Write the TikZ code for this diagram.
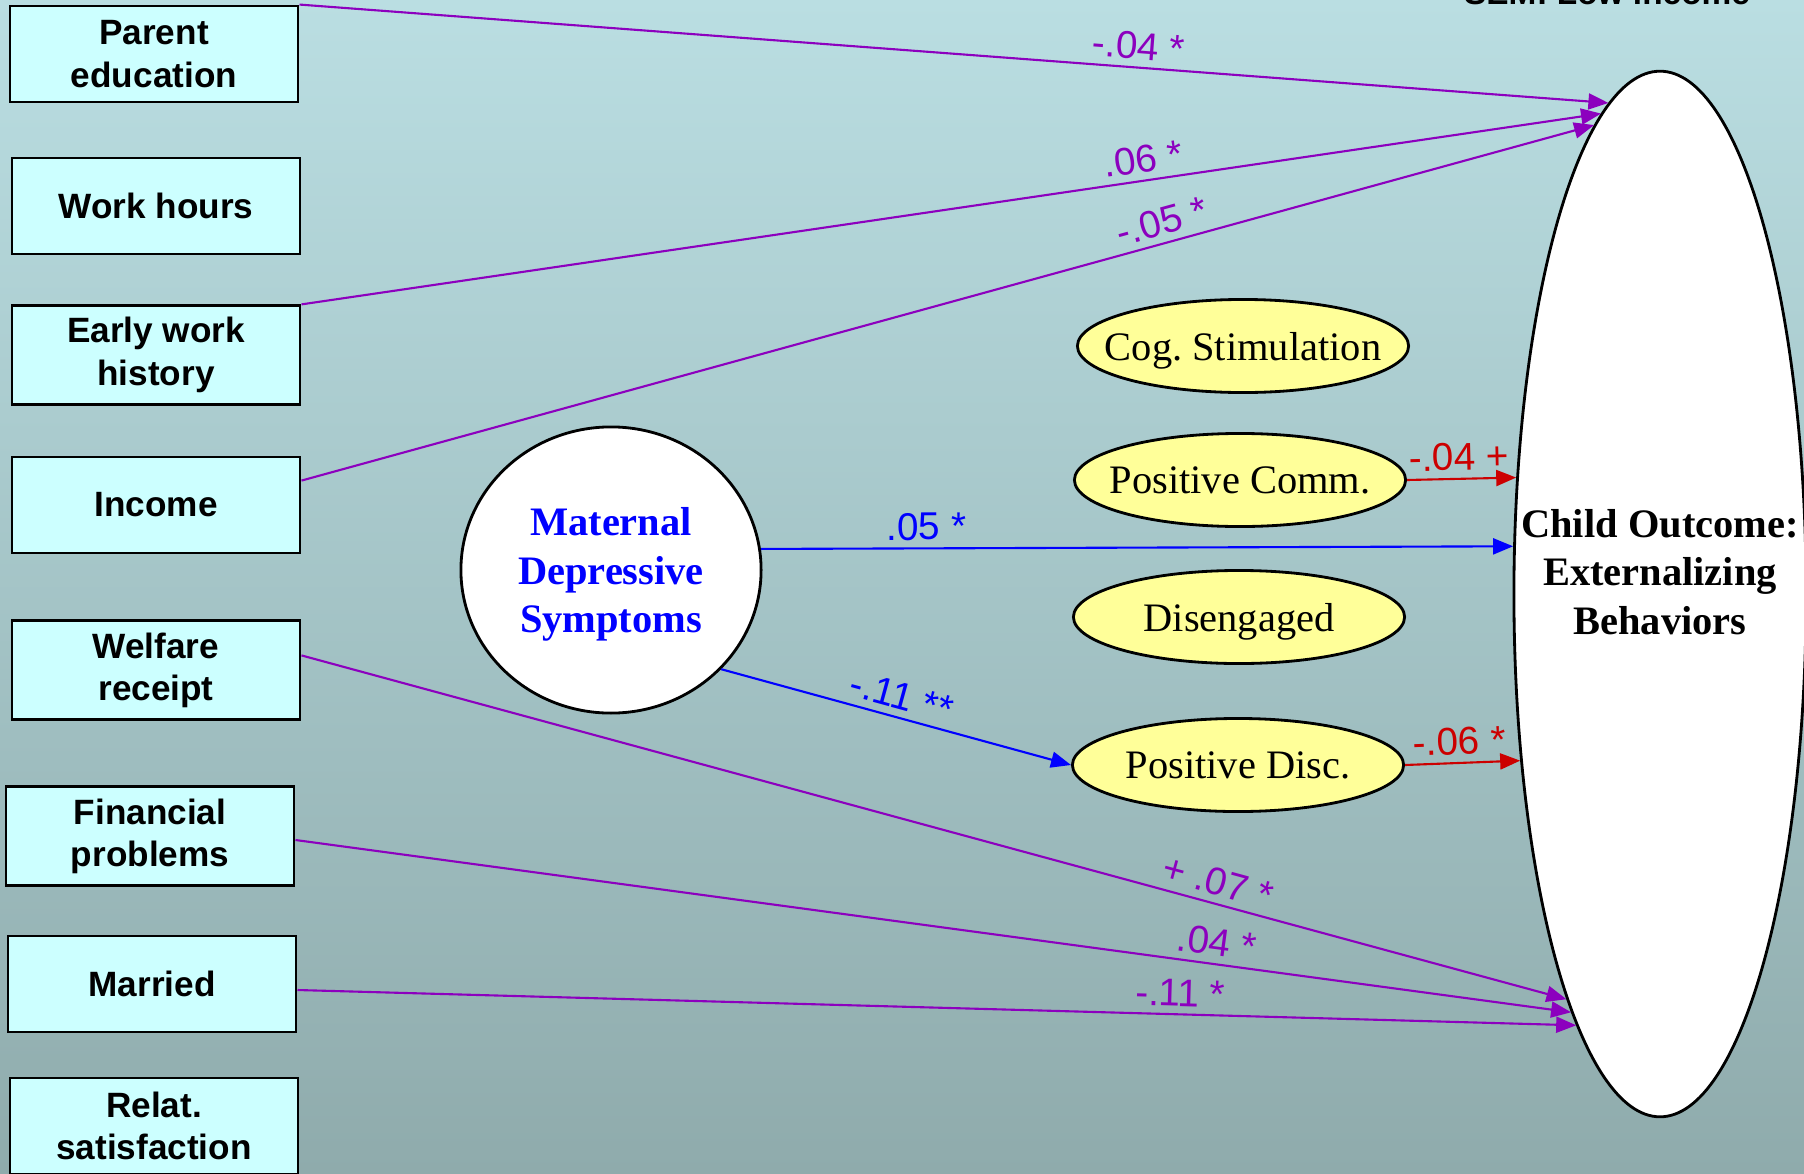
\documentclass[tikz,border=0pt]{standalone}
\usepackage{fontspec}
\setmainfont{Liberation Serif}
\setsansfont{Liberation Sans}
\usetikzlibrary{
    shapes.geometric,
    arrows.meta
}
\definecolor{bgtop}{RGB}{186,222,226}
\definecolor{bgbottom}{RGB}{143,171,172}
\definecolor{boxcyan}{RGB}{204,255,255}
\definecolor{ovalyellow}{RGB}{255,255,153}
\definecolor{pathpurple}{RGB}{140,0,190}
\definecolor{pathred}{RGB}{204,0,0}
\definecolor{pathblue}{RGB}{0,0,255}
\tikzset{
  predictor/.style = {
      draw,
      rectangle,
      fill=boxcyan,
      line width=0.8pt,
      minimum width=2.88cm,
      minimum height=0.96cm,
      align=center,
      font=\sffamily\bfseries\fontsize{10}{12}\selectfont
  },
  parenting/.style = {
      draw,
      ellipse,
      fill=ovalyellow,
      line width=0.8pt,
      minimum width=3.31cm,
      minimum height=0.93cm,
      inner xsep=-0.25cm,
      inner ysep=0pt,
      text depth=0pt,
      font=\fontsize{11.5}{13}\selectfont
  },
  latent/.style = {
      draw,
      ellipse,
      fill=white,
      line width=0.8pt,
      inner sep=0pt,
      align=center,
      font=\bfseries\fontsize{11.5}{13.8}\selectfont
  },
  effect/.style = {
      -{Triangle[length=0.2cm,width=0.16cm]},
      line width=0.6pt
  },
  coef/.style = {
      font=\sffamily\fontsize{11}{13}\selectfont,
      sloped,
      above,
      inner sep=2pt
  }
}
\begin{document}
\begin{tikzpicture}[x=0.01cm, y=-0.01cm]
    \useasboundingbox (0,0) rectangle (1804,1173);
    \shade[top color=bgtop, bottom color=bgbottom] (0,0) rectangle (1804,1173);
    % Nodes
    \node[anchor=base, font=\sffamily\bfseries\fontsize{9.5}{11}\selectfont] (title) at (1607,5) {SEM: Low income};
    \node[predictor] (pe) at (154,54) {Parent\\education};
    \node[predictor] (wh) at (156,206) {Work hours};
    \node[predictor] (ewh) at (156,355) {Early work\\history};
    \node[predictor] (inc) at (156,505) {Income};
    \node[predictor] (wr) at (156,670) {Welfare\\receipt};
    \node[predictor] (fp) at (150,836) {Financial\\problems};
    \node[predictor] (mar) at (152,984) {Married};
    \node[predictor] (rs) at (154,1126) {Relat.\\satisfaction};
    \node[latent, text=pathblue, text depth=0pt, minimum width=3.0cm, minimum height=2.86cm] (mds) at (611,570) {Maternal\\Depressive\\Symptoms};
    \node[parenting] (cog) at (1243,346) {Cog.\ Stimulation};
    \node[parenting] (pcomm) at (1240,480) {Positive Comm.};
    \node[parenting] (dis) at (1239,617) {Disengaged};
    \node[parenting] (pdisc) at (1238,765) {Positive Disc.};
    \node[latent, minimum width=2.92cm, minimum height=10.45cm,
          label={[yshift=0.22cm, align=center, font=\bfseries\fontsize{11.5}{13.8}\selectfont]center:{Child Outcome:\\Externalizing\\Behaviors}}] (outcome) at (1660,594) {};
    % Edges
    \draw[effect, pathpurple] (pe.north east) -- node[coef, pos=0.64] {-.04 *} (outcome.96);
    \draw[effect, pathpurple] (ewh.north east) -- node[coef, pos=0.65] {.06 *} (outcome.97.7);
    \draw[effect, pathpurple] ([yshift=-0.25cm]inc.north east) -- node[coef, pos=0.67] {-.05 *} (outcome.98.2);
    \draw[effect, pathpurple] ([yshift=-0.36cm]wr.north east) -- node[coef, pos=0.72] {+ .07 *} (outcome.257.5);
    \draw[effect, pathpurple] ([yshift=-0.04cm]fp.east) -- node[coef, pos=0.72] {.04 *} (outcome.258.8);
    \draw[effect, pathpurple] ([yshift=-0.06cm]mar.east) -- node[coef, pos=0.69] {-.11 *} (outcome.259.2);
    \draw[effect, pathblue] (mds.8) -- node[coef, pos=0.22] {.05 *} (outcome.162);
    \draw[effect, pathblue] (mds.-42) -- node[coef, pos=0.5] {-.11 **} (pdisc.west);
    \draw[effect, pathred] (pcomm.east) -- node[coef, pos=0.48] {-.04 +} (outcome.141);
    \draw[effect, pathred] (pdisc.east) -- node[coef, pos=0.48] {-.06 *} (outcome.230.6);
\end{tikzpicture}
\end{document}
